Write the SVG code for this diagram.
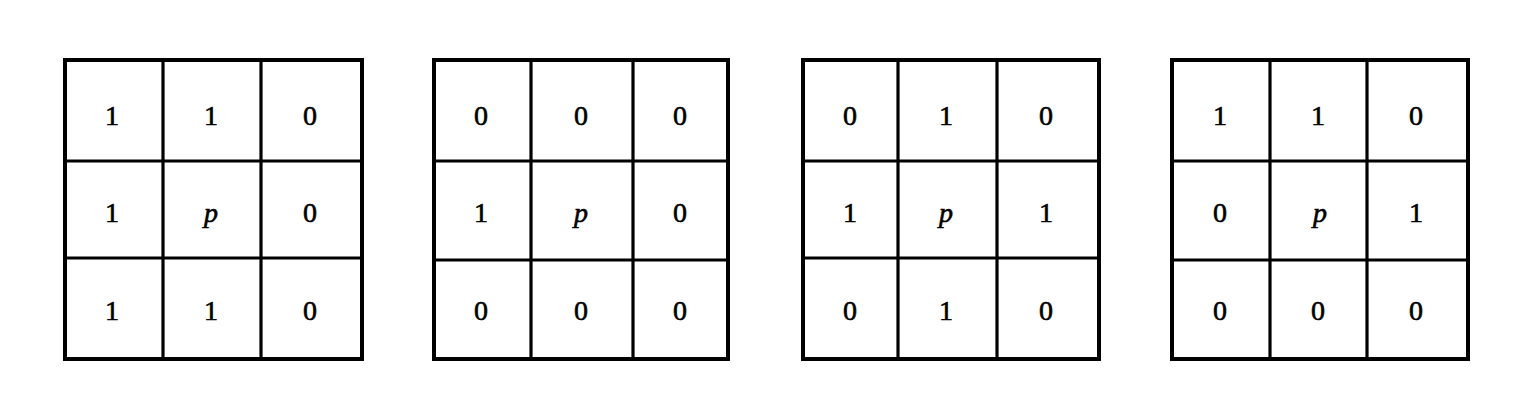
<svg xmlns="http://www.w3.org/2000/svg" width="1539" height="415" viewBox="0 0 1539 415">
<style>
.outer{fill:none;stroke:#000;stroke-width:4}
.inner{stroke:#000;stroke-width:3.2}
.t text{font-size:28px;fill:#000;stroke:#000;stroke-width:0.6;text-anchor:middle}
.p{font-style:italic}
</style>
<rect width="1539" height="415" fill="#fff"/>
<g id="grid1">
<rect class="outer" x="65" y="60" width="297" height="299"/>
<line class="inner" x1="163" y1="60" x2="163" y2="359"/>
<line class="inner" x1="261" y1="60" x2="261" y2="359"/>
<line class="inner" x1="65" y1="161" x2="362" y2="161"/>
<line class="inner" x1="65" y1="258" x2="362" y2="258"/>
<g class="t" font-family="Liberation Serif, Times New Roman, serif">
<text x="112" y="125">1</text><text x="211" y="125">1</text><text x="310" y="125">0</text>
<text x="112" y="222">1</text><text class="p" x="211" y="222">p</text><text x="310" y="222">0</text>
<text x="112" y="320">1</text><text x="211" y="320">1</text><text x="310" y="320">0</text>
</g>
</g>
<g id="grid2">
<rect class="outer" x="434" y="60" width="294" height="299"/>
<line class="inner" x1="531" y1="60" x2="531" y2="359"/>
<line class="inner" x1="633" y1="60" x2="633" y2="359"/>
<line class="inner" x1="434" y1="161" x2="728" y2="161"/>
<line class="inner" x1="434" y1="260" x2="728" y2="260"/>
<g class="t" font-family="Liberation Serif, Times New Roman, serif">
<text x="481" y="125">0</text><text x="581" y="125">0</text><text x="680" y="125">0</text>
<text x="481" y="222">1</text><text class="p" x="581" y="222">p</text><text x="680" y="222">0</text>
<text x="481" y="320">0</text><text x="581" y="320">0</text><text x="680" y="320">0</text>
</g>
</g>
<g id="grid3">
<rect class="outer" x="803" y="60" width="296" height="299"/>
<line class="inner" x1="898" y1="60" x2="898" y2="359"/>
<line class="inner" x1="997" y1="60" x2="997" y2="359"/>
<line class="inner" x1="803" y1="161" x2="1099" y2="161"/>
<line class="inner" x1="803" y1="258" x2="1099" y2="258"/>
<g class="t" font-family="Liberation Serif, Times New Roman, serif">
<text x="850" y="125">0</text><text x="946" y="125">1</text><text x="1046" y="125">0</text>
<text x="850" y="222">1</text><text class="p" x="946" y="222">p</text><text x="1046" y="222">1</text>
<text x="850" y="320">0</text><text x="946" y="320">1</text><text x="1046" y="320">0</text>
</g>
</g>
<g id="grid4">
<rect class="outer" x="1172" y="60" width="296" height="299"/>
<line class="inner" x1="1270" y1="60" x2="1270" y2="359"/>
<line class="inner" x1="1367" y1="60" x2="1367" y2="359"/>
<line class="inner" x1="1172" y1="161" x2="1468" y2="161"/>
<line class="inner" x1="1172" y1="260" x2="1468" y2="260"/>
<g class="t" font-family="Liberation Serif, Times New Roman, serif">
<text x="1220" y="125">1</text><text x="1318" y="125">1</text><text x="1416" y="125">0</text>
<text x="1220" y="222">0</text><text class="p" x="1320" y="222">p</text><text x="1416" y="222">1</text>
<text x="1220" y="320">0</text><text x="1318" y="320">0</text><text x="1416" y="320">0</text>
</g>
</g>
<g id="connectors"/>
</svg>
